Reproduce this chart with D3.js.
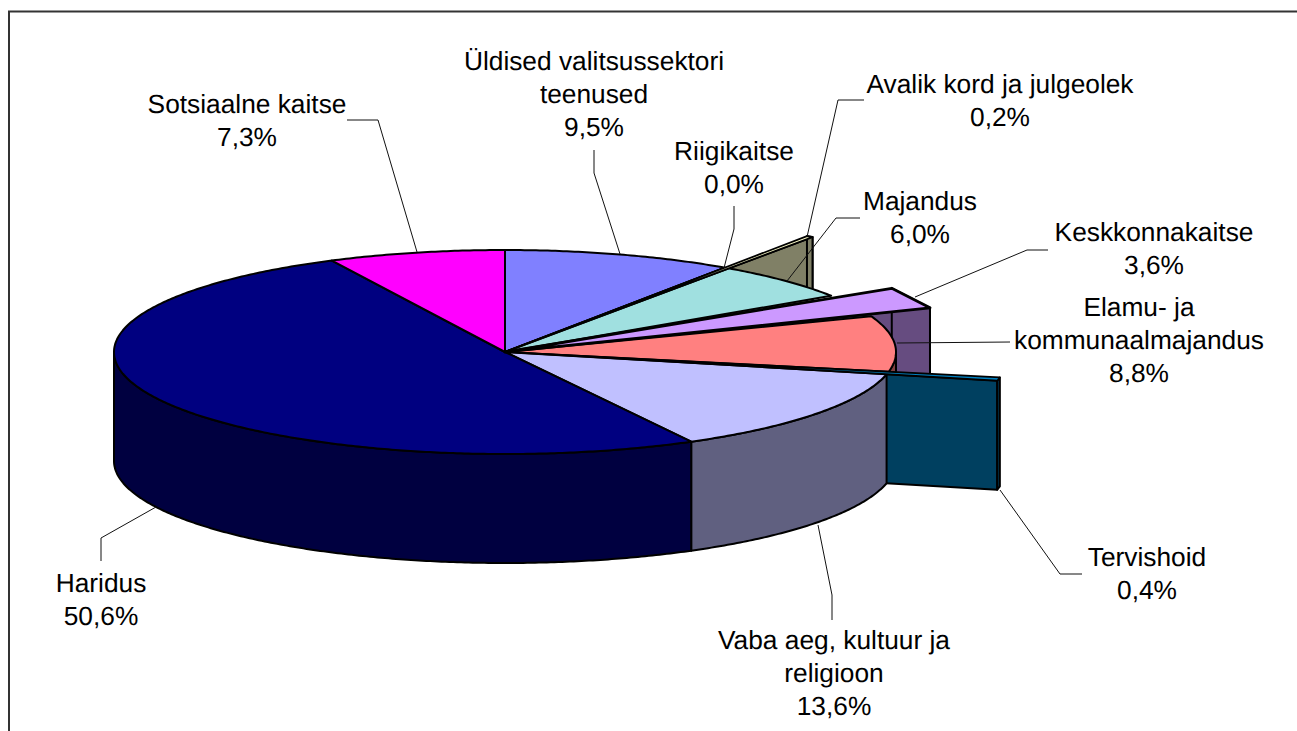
<!DOCTYPE html>
<html>
<head>
<meta charset="utf-8">
<script src="https://cdn.jsdelivr.net/npm/d3@7"></script>
<style>
  html, body { margin: 0; padding: 0; background: #fff; overflow: hidden; }
</style>
</head>
<body>
<script>
const width = 1297;
const height = 731;

// values from the chart, clockwise from 12 o'clock
const categories = [
  "Üldised valitsussektori teenused",
  "Riigikaitse",
  "Avalik kord ja julgeolek",
  "Majandus",
  "Keskkonnakaitse",
  "Elamu- ja kommunaalmajandus",
  "Tervishoid",
  "Vaba aeg, kultuur ja religioon",
  "Haridus",
  "Sotsiaalne kaitse"
];
const values = [9.5, 0.0, 0.2, 6.0, 3.6, 8.8, 0.4, 13.6, 50.6, 7.3];

const topColors = ["#8080FF", "#802060", "#FFFFCC", "#A0E0E0", "#CC99FF", "#FF8080", "#0080C0", "#C0C0FF", "#000080", "#FF00FF"];
const sideColors = ["#404080", "#401030", "#808066", "#507070", "#664C80", "#804040", "#004060", "#606080", "#000040", "#800080"];

// small slices are drawn pulled out of the ellipse, with a straight outer edge
const pulled = {
  "Avalik kord ja julgeolek": { r: 1.374, inset: 0, stroke: 1.8 },
  "Keskkonnakaitse": { r: 1.17, inset: 1.2, stroke: 2.8 },
  "Tervishoid": { r: 1.29, inset: 0, stroke: 1.8 }
};

// label text lines, centre x, first line y, leader polyline
const labels = [
  { lines: ["Üldised valitsussektori", "teenused"], x: 594, y: 70, leader: [[594, 150], [594, 173], [620, 254]] },
  { lines: ["Riigikaitse"], x: 734, y: 160, leader: [[734, 206], [734, 229], [724, 268]] },
  { lines: ["Avalik kord ja julgeolek"], x: 1000, y: 93, leader: [[864, 100], [838, 100], [807, 237]] },
  { lines: ["Majandus"], x: 920, y: 210, leader: [[860, 218], [836, 218], [787, 281]] },
  { lines: ["Keskkonnakaitse"], x: 1154, y: 241, leader: [[1048, 250], [1027, 250], [915, 297]] },
  { lines: ["Elamu- ja", "kommunaalmajandus"], x: 1139, y: 316, leader: [[1010, 342], [897, 343]] },
  { lines: ["Tervishoid"], x: 1147, y: 566, leader: [[1082, 574], [1060, 574], [1000, 490]] },
  { lines: ["Vaba aeg, kultuur ja", "religioon"], x: 834, y: 649, leader: [[832, 620], [832, 595], [818, 525]] },
  { lines: ["Haridus"], x: 101, y: 592, leader: [[101, 561], [101, 538], [156, 507]] },
  { lines: ["Sotsiaalne kaitse"], x: 247, y: 113, leader: [[347, 120], [378, 120], [417, 252]] }
];

const x = d3.scaleLinear().domain([-1, 1]).range([114, 896]);
const y = d3.scaleLinear().domain([-1, 1]).range([250, 454]);
const depth = 109;
const lineStep = 33;

const fmt = d3.formatLocale({ decimal: ",", thousands: " ", grouping: [3], currency: ["", ""] }).format(".1f");

const svg = d3.select("body").append("svg")
    .attr("width", width)
    .attr("height", height)
    .style("display", "block");

// frame runs off the right and bottom of the window
svg.append("rect")
    .attr("x", 9)
    .attr("y", 11.5)
    .attr("width", width + 20)
    .attr("height", height + 20)
    .attr("fill", "#fff")
    .attr("stroke", "#333")
    .attr("stroke-width", 2);

const slices = d3.pie().sort(null).value(d => d)(values).map((d, i) => {
  const p = pulled[categories[i]];
  const inset = p ? p.inset * Math.PI / 180 : 0;
  return {
    i,
    start: d.startAngle + inset,
    end: d.endAngle - inset,
    r: p ? p.r : 1,
    chord: !!p,
    stroke: p ? p.stroke : 2,
    top: topColors[i],
    side: sideColors[i]
  };
});

function pt(a, r) {
  return [x(r * Math.sin(a)), y(-r * Math.cos(a))];
}

function arcPoints(s, from, to) {
  if (s.chord) return [pt(from, s.r), pt(to, s.r)];
  const n = Math.max(2, Math.ceil((to - from) / 0.01));
  return d3.range(n + 1).map(k => pt(from + (to - from) * k / n, s.r));
}

const poly = d3.line().curve(d3.curveLinearClosed);
const open = d3.line();

const walls = [];
slices.forEach(s => {
  if (s.chord) {
    // cut face at the end of the slice, then the flat outer face
    const tip = pt(s.end, s.r);
    const c = pt(0, 0);
    walls.push({ pts: [c, tip, [tip[0], tip[1] + depth], [c[0], c[1] + depth]], fill: s.side });
    const a = pt(s.start, s.r);
    walls.push({ pts: [a, tip, [tip[0], tip[1] + depth], [a[0], a[1] + depth]], fill: s.side });
  } else {
    // only the part of the rim facing the viewer
    const from = Math.max(s.start, Math.PI / 2);
    const to = Math.min(s.end, Math.PI * 1.5);
    if (to > from) {
      const rim = arcPoints(s, from, to);
      const low = rim.map(p => [p[0], p[1] + depth]).reverse();
      walls.push({ pts: rim.concat(low), fill: s.side });
    }
  }
});

svg.append("g").selectAll("path")
  .data(walls)
  .join("path")
    .attr("d", d => poly(d.pts))
    .attr("fill", d => d.fill)
    .attr("stroke", "#000")
    .attr("stroke-width", 2)
    .attr("stroke-linejoin", "round");

// pulled slices go last so their edges stay on top
svg.append("g").selectAll("path")
  .data(d3.sort(slices, s => s.chord ? 1 : 0))
  .join("path")
    .attr("d", s => poly([pt(0, 0)].concat(arcPoints(s, s.start, s.end))))
    .attr("fill", d => d.top)
    .attr("stroke", "#000")
    .attr("stroke-width", d => d.stroke)
    .attr("stroke-linejoin", "round");

svg.append("g").selectAll("path")
  .data(labels)
  .join("path")
    .attr("d", d => open(d.leader))
    .attr("fill", "none")
    .attr("stroke", "#111")
    .attr("stroke-width", 1);

const labelText = svg.append("g").selectAll("text")
  .data(labels)
  .join("text")
    .attr("x", d => d.x)
    .attr("y", d => d.y)
    .attr("text-anchor", "middle")
    .attr("font-family", "Liberation Sans")
    .attr("font-size", 26.3)
    .attr("text-rendering", "geometricPrecision")
    .attr("fill", "#000");

labelText.each(function(d, i) {
  const t = d3.select(this);
  d.lines.concat(fmt(values[i]) + "%").forEach((line, k) => {
    t.append("tspan")
      .attr("x", d.x)
      .attr("y", d.y + k * lineStep)
      .text(line);
  });
});
</script>
</body>
</html>
